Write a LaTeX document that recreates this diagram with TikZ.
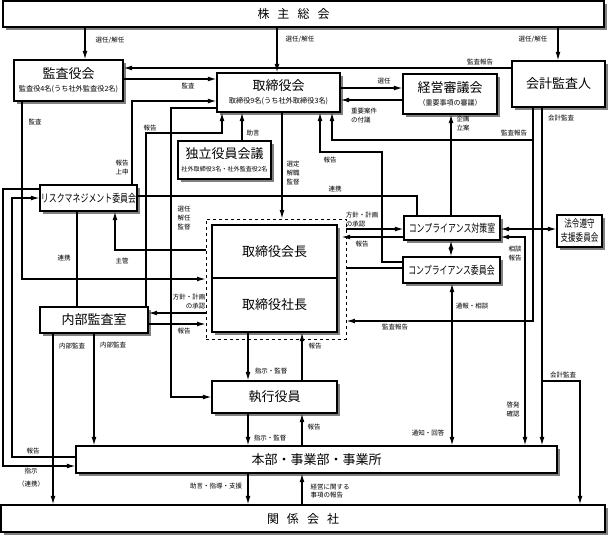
\documentclass[tikz,border=0pt]{standalone}
\usepackage{graphicx}
\usepackage{fontspec}
\setmainfont{Noto Sans CJK JP}
\usetikzlibrary{arrows.meta,shadows,calc}
\tikzset{
  box/.style={draw, line width=1.2pt, fill=white, inner sep=0pt, align=center,
    general shadow={fill=black!50, shadow xshift=3pt, shadow yshift=-3pt}},
  lbl/.style={font=\fontsize{6.5}{9}\selectfont, inner sep=0pt, align=center},
  conn/.style={line width=1.1pt},
  arr/.style={conn, -{Latex[length=8.5pt,width=4.8pt]}},
  darr/.style={conn, {Latex[length=8.5pt,width=4.8pt]}-{Latex[length=8.5pt,width=4.8pt]}},
  ttl/.style={font=\fontsize{13}{15}\selectfont},
}
\newcommand{\cond}[1]{\scalebox{0.72}[1]{#1}}
\begin{document}
\begin{tikzpicture}[x=1pt,y=-1pt]
\useasboundingbox (0,0) rectangle (609,536);
% ---------- boxes ----------
\node[box, minimum width=601pt, minimum height=26pt, font=\fontsize{12}{12}\selectfont] (kabu) at (303.5,14) {株\hspace{8pt}主\hspace{8pt}総\hspace{8pt}会\hspace*{20pt}};
\node[box, minimum width=109pt, minimum height=41pt] (kansayaku) at (68.5,80.5)
  {\fontsize{13}{14}\selectfont 監査役会\\[1pt]\fontsize{7.2}{8}\selectfont 監査役4名(うち社外監査役2名)};
\node[box, minimum width=123pt, minimum height=39pt] (torishimari) at (278.5,92.5)
  {\fontsize{13}{14}\selectfont 取締役会\\[1pt]\fontsize{7.2}{8}\selectfont 取締役9名(うち社外取締役3名)};
\node[box, minimum width=94pt, minimum height=40pt] (keiei) at (450,94)
  {\fontsize{13}{14}\selectfont 経営審議会\\[1pt]\fontsize{7}{8}\selectfont （重要事項の審議）};
\node[box, minimum width=93pt, minimum height=46pt, ttl] (kaikei) at (558.5,84) {会計監査人};
\node[box, minimum width=93pt, minimum height=38pt] (dokuritsu) at (224.5,160)
  {\fontsize{13}{14}\selectfont 独立役員会議\\[1pt]\fontsize{6.1}{8}\selectfont 社外取締役3名・社外監査役2名};
\node[box, minimum width=97pt, minimum height=26pt, font=\fontsize{11}{11}\selectfont] (rm) at (88.5,198) {\cond{リスクマネジメント委員会}};
\node[box, minimum width=96pt, minimum height=24pt, font=\fontsize{11}{11}\selectfont] (taisaku) at (452,228) {\cond{コンプライアンス対策室}};
\node[box, minimum width=45pt, minimum height=32pt, font=\fontsize{10.5}{14}\selectfont] (houki) at (579.5,231) {\cond{法令遵守}\\\cond{支援委員会}};
\node[box, minimum width=97pt, minimum height=26pt, font=\fontsize{11}{11}\selectfont] (iinkai) at (451.5,270) {\cond{コンプライアンス委員会}};
\node[draw, dashed, line width=0.9pt, minimum width=140pt, minimum height=120pt] (grp) at (276,279) {};
\node[box, minimum width=125pt, minimum height=53pt, ttl] (kaicho) at (274.5,251.5) {取締役会長};
\node[box, minimum width=125pt, minimum height=54pt, ttl] (shacho) at (274.5,305) {取締役社長};
\node[box, minimum width=108pt, minimum height=26pt, ttl] (naibu) at (94,320) {内部監査室};
\node[box, minimum width=125pt, minimum height=32pt, ttl] (shikko) at (274.5,397) {執行役員};
\node[box, minimum width=481pt, minimum height=27pt, ttl] (honbu) at (316.5,459.5) {本部・事業部・事業所};
\node[box, minimum width=604pt, minimum height=27pt, font=\fontsize{12}{12}\selectfont] (kankei) at (303,518.5) {関\hspace{8pt}係\hspace{8pt}会\hspace{8pt}社};
% ---------- connectors ----------
\draw[arr] (kabu.south -| 85,0) -- (kansayaku.north -| 85,0);
\draw[arr] (kabu.south -| 277,0) -- (torishimari.north -| 277,0);
\draw[arr] (kabu.south -| 558,0) -- (kaikei.north -| 558,0);
\node[lbl] (t1) at (110,40) {選任/解任};
\node[lbl] (t2) at (300,39) {選任/解任};
\node[lbl] (t3) at (533,39) {選任/解任};
\draw[arr] (kaikei.west |- 0,68) -- (kansayaku.east |- 0,68);
\node[lbl] (t4) at (480,62) {監査報告};
\draw[arr] (kansayaku.east |- 0,79) -- (torishimari.west |- 0,79);
\node[lbl] (t5) at (188,86) {監査};
\draw[arr] (rm.north -| 132,0) |- (torishimari.west |- 0,101);
\node[lbl] (t6) at (122,168) {報告\\上申};
\draw[arr] (torishimari.west |- 0,108) -| (171,397) -- (shikko.west);
\node[lbl] (t7) at (184,218) {選任\\解任\\監督};
\draw[arr] (naibu.north -| 146,0) |- (222,133) -- (torishimari.south -| 222,0);
\node[lbl] (t8) at (150,128) {報告};
\draw[arr] (dokuritsu.north -| 242,0) -- (torishimari.south -| 242,0);
\node[lbl] (t9) at (253,133) {助言};
\draw[arr] (torishimari.south -| 282,0) -- (grp.north -| 282,0);
\node[lbl] (t10) at (293,173) {選定\\解職\\監督};
\draw[arr] (torishimari.east |- 0,88) -- (keiei.west |- 0,88);
\node[lbl] (t11) at (384,81) {選任};
\draw[arr] (keiei.west |- 0,100) -- (torishimari.east |- 0,100);
\node[lbl, align=left] (t12) at (364,116) {重要案件\\の付議};
\draw[arr] (kaikei.south -| 533,0) |- (332,140) -- (torishimari.south -| 332,0);
\node[lbl] (t13) at (514,133) {監査報告};
\draw[arr] (iinkai.west |- 0,262) -| (382,152) -| (torishimari.south -| 320,0);
\node[lbl] (t14) at (330,160) {報告};
\draw[arr] (taisaku.north -| 451,0) -- (keiei.south -| 451,0);
\node[lbl] (t15) at (463,124) {企画\\立案};
\draw[darr] (taisaku.east |- 0,229) -- (houki.west |- 0,229);
\draw[darr] (taisaku.south -| 451,0) -- (iinkai.north -| 451,0);
\draw[conn] (rm.east |- 0,196) -| (taisaku.north -| 417,0);
\node[lbl] (t18) at (335,189) {連携};
\draw[arr] (grp.east |- 0,229) -- (taisaku.west |- 0,229);
\node[lbl, align=left] (t19) at (362,220) {方針・計画\\の承認};
\draw[arr] (taisaku.west |- 0,237) -- ($(kaicho.east |- 0,237)+(4,0)$);
\node[lbl] (t20) at (362,244) {報告};
\draw[conn] (grp.east |- 0,268) -- (iinkai.west |- 0,268);
\draw[arr] (kansayaku.south -| 22,0) |- (grp.west |- 0,279);
\node[lbl] (t22) at (35,122) {監査};
\draw[arr] (grp.west |- 0,250) -| (rm.south -| 115,0);
\node[lbl] (t23) at (122,261) {主管};
\draw[conn] (rm.south -| 77,0) -- (naibu.north -| 77,0);
\node[lbl] (t24) at (64,258) {連携};
\draw[arr] (grp.west |- 0,313) -- (naibu.east |- 0,313);
\node[lbl, align=right] (t25) at (189,302) {方針・計画\\の承認};
\draw[arr] (naibu.east |- 0,324) -- (grp.west |- 0,324);
\node[lbl] (t26) at (184,331) {報告};
\draw[arr] (kaikei.south -| 533,0) |- (grp.east |- 0,321);
\node[lbl] (t27) at (395,327) {監査報告};
\draw[darr] (iinkai.south -| 452,0) -- (honbu.north -| 452,0);
\node[lbl] (t28a) at (472,306) {通報・相談};
\node[lbl] (t28b) at (428,433) {通知・回答};
\draw[darr] (taisaku.east |- 0,237) -| (honbu.north -| 525,0);
\node[lbl] (t29a) at (515,254) {相談\\報告};
\node[lbl] (t29b) at (513,410) {啓発\\確認};
\draw[arr] (kaikei.south -| 542,0) -- (honbu.north -| 542,0);
\node[lbl] (t30) at (561,118) {会計監査};
\coordinate (br) at (542,381);
\draw[arr] (br) -| (kankei.north -| 580,0);
\node[lbl] (t31) at (563,375) {会計監査};
\draw[arr] (shacho.south -| 248,0) -- (shikko.north -| 248,0);
\node[lbl] (t32) at (271,371) {指示・監督};
\draw[arr] (shikko.north -| 302,0) -- (shacho.south -| 302,0);
\node[lbl] (t33) at (315,346) {報告};
\draw[arr] (shikko.south -| 248,0) -- (honbu.north -| 248,0);
\node[lbl] (t34) at (270,438) {指示・監督};
\draw[arr] (honbu.north -| 302,0) -- (shikko.south -| 302,0);
\node[lbl] (t35) at (314,427) {報告};
\draw[arr] (honbu.south -| 248,0) -- (kankei.north -| 248,0);
\node[lbl] (t36) at (216,486) {助言・指導・支援};
\draw[arr] (kankei.north -| 302,0) -- (honbu.south -| 302,0);
\node[lbl, align=left, font=\fontsize{6.5}{8}\selectfont] (t37) at (330,491) {経営に関する\\事項の報告};
\draw[arr] (naibu.south -| 53,0) -- (kankei.north -| 53,0);
\node[lbl] (t38) at (72,346) {内部監査};
\draw[arr] (naibu.south -| 94,0) -- (honbu.north -| 94,0);
\node[lbl] (t39) at (113,345) {内部監査};
\draw[arr] (rm.west |- 0,189) -| (3,466) -- (honbu.west |- 0,466);
\node[lbl, font=\fontsize{6.5}{13}\selectfont] (t40) at (31,478) {指示\\（連携）};
\draw[arr] (honbu.west |- 0,457) -| (12,198) -- (rm.west |- 0,198);
\node[lbl] (t41) at (33,451) {報告};
\end{tikzpicture}
\end{document}
